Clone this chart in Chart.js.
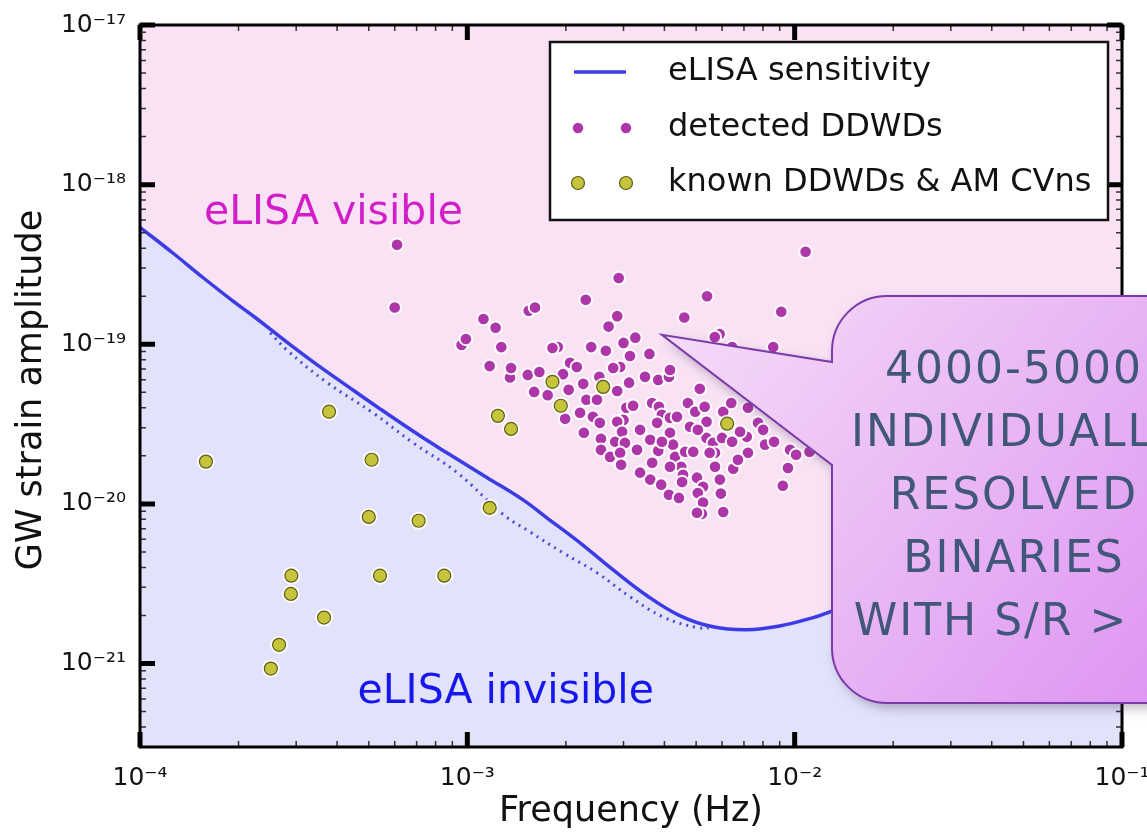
<!DOCTYPE html>
<html>
<head>
<meta charset="utf-8">
<title>eLISA sensitivity and double white dwarfs</title>
<script src="https://cdn.jsdelivr.net/npm/chart.js@4.4.1/dist/chart.umd.min.js"></script>
<style>
  html, body { margin: 0; padding: 0; background: #fff; }
  #wrap { position: relative; width: 1147px; height: 837px; overflow: hidden; }
</style>
</head>
<body>
<div id="wrap"><canvas id="chart" width="1147" height="837"></canvas></div>
<script>
// tick labels
const xTicks = [1e-4, 1e-3, 1e-2, 1e-1];
const yTicks = [1e-21, 1e-20, 1e-19, 1e-18, 1e-17];

// eLISA sensitivity curve (solid)
const sensFreq = [1.0e-4, 1.26e-4, 1.56e-4, 1.92e-4, 2.28e-4, 2.73e-4, 3.38e-4, 4.29e-4, 5.41e-4, 7.17e-4,
  8.66e-4, 1.15e-3, 1.48e-3, 1.75e-3, 2.21e-3, 2.79e-3, 3.54e-3, 4.47e-3, 5.63e-3, 7.14e-3,
  9.0e-3, 1.14e-2, 1.28e-2, 2.0e-2, 4.0e-2, 7.0e-2, 1.0e-1];
const sensStrain = [5.4e-19, 3.73e-19, 2.61e-19, 1.87e-19, 1.44e-19, 1.08e-19, 7.76e-20, 5.49e-20, 3.94e-20, 2.67e-20,
  2.09e-20, 1.46e-20, 1.06e-20, 8.18e-21, 5.7e-21, 3.86e-21, 2.66e-21, 1.99e-21, 1.70e-21, 1.63e-21,
  1.72e-21, 1.94e-21, 2.11e-21, 3.0e-21, 5.5e-21, 9.0e-21, 1.3e-20];

// dotted curve (with foreground)
const dotFreq = [2.5e-4, 2.81e-4, 3.73e-4, 5.15e-4, 6.83e-4, 9.31e-4, 1.29e-3, 1.55e-3, 1.96e-3, 2.49e-3,
  3.14e-3, 3.96e-3, 5.03e-3, 5.6e-3];
const dotStrain = [1.18e-19, 9.2e-20, 5.75e-20, 3.72e-20, 2.41e-20, 1.57e-20, 8.55e-21, 6.7e-21, 4.94e-21, 3.7e-21,
  2.62e-21, 1.96e-21, 1.68e-21, 1.68e-21];

// detected DDWDs
const detFreq = [6.1e-4, 6.0e-4, 1.08e-2, 2.9e-3, 2.3e-3, 5.4e-3, 9.1e-3, 1.54e-3, 1.61e-3, 4.6e-3,
  2.87e-3, 2.7e-3, 1.12e-3, 1.22e-3, 9.6e-4, 9.9e-4, 1.27e-3, 1.17e-3, 1.35e-3, 1.36e-3,
  5.9e-3, 5.7e-3, 8.6e-3, 1.89e-3, 1.82e-3, 2.39e-3, 2.65e-3, 3.0e-3, 3.26e-3, 3.14e-3,
  3.6e-3, 2.06e-3, 2.16e-3, 1.96e-3, 1.53e-3, 1.66e-3, 1.6e-3, 1.76e-3, 2.04e-3, 2.26e-3,
  2.53e-3, 2.87e-3, 2.93e-3, 2.79e-3, 3.12e-3, 3.49e-3, 3.83e-3, 4.13e-3, 4.16e-3, 1.99e-3,
  2.31e-3, 2.49e-3, 2.42e-3, 2.21e-3, 2.27e-3, 2.54e-3, 2.56e-3, 2.56e-3, 2.73e-3, 2.83e-3,
  3.0e-3, 2.87e-3, 3.06e-3, 3.21e-3, 2.97e-3, 3.03e-3, 2.93e-3, 2.95e-3, 3.37e-3, 3.30e-3,
  3.67e-3, 3.85e-3, 3.93e-3, 4.16e-3, 4.37e-3, 3.80e-3, 3.62e-3, 3.83e-3, 3.67e-3, 4.16e-3,
  4.25e-3, 4.31e-3, 4.50e-3, 3.62e-3, 3.37e-3, 3.91e-3, 4.13e-3, 4.43e-3, 4.63e-3, 4.90e-3,
  4.56e-3, 4.79e-3, 4.72e-3, 4.97e-3, 5.13e-3, 5.31e-3, 5.38e-3, 5.38e-3, 5.63e-3, 5.06e-3,
  6.05e-3, 6.40e-3, 6.0e-3, 6.44e-3, 5.71e-3, 5.03e-3, 5.25e-3, 5.06e-3, 5.91e-3, 5.95e-3,
  5.25e-3, 5.21e-3, 5.03e-3, 6.05e-3, 5.71e-3, 6.49e-3, 7.2e-3, 6.71e-3, 7.14e-3, 6.81e-3,
  7.2e-3, 7.73e-3, 8.01e-3, 8.12e-3, 8.65e-3, 9.68e-3, 1.01e-2, 9.54e-3, 9.2e-3, 1.11e-2,
  4.53e-3, 4.16e-3, 3.93e-3, 5.5e-3, 6.44e-3, 1.155e-2];
const detStrain = [4.2e-19, 1.7e-19, 3.8e-19, 2.6e-19, 1.9e-19, 2.0e-19, 1.6e-19, 1.62e-19, 1.7e-19, 1.47e-19,
  1.5e-19, 1.29e-19, 1.44e-19, 1.27e-19, 9.9e-20, 1.08e-19, 9.6e-20, 7.3e-20, 6.2e-20, 7.1e-20,
  1.16e-19, 1.11e-19, 9.6e-20, 9.6e-20, 9.47e-20, 9.6e-20, 9.1e-20, 1.02e-19, 1.10e-19, 8.45e-20,
  8.7e-20, 7.65e-20, 7.2e-20, 6.5e-20, 6.43e-20, 6.7e-20, 5.03e-20, 4.8e-20, 5.18e-20, 5.65e-20,
  6.25e-20, 5.1e-20, 7.2e-20, 7.1e-20, 5.75e-20, 6.25e-20, 5.98e-20, 6.25e-20, 6.9e-20, 3.41e-20,
  4.49e-20, 4.49e-20, 3.51e-20, 3.72e-20, 2.79e-20, 3.22e-20, 2.56e-20, 2.18e-20, 1.97e-20, 2.45e-20,
  3.36e-20, 3.27e-20, 4.0e-20, 4.12e-20, 2.83e-20, 2.41e-20, 2.09e-20, 1.76e-20, 2.91e-20, 2.18e-20,
  4.29e-20, 4.06e-20, 3.62e-20, 3.46e-20, 3.51e-20, 3.22e-20, 2.52e-20, 2.15e-20, 1.81e-20, 2.79e-20,
  2.35e-20, 1.97e-20, 1.71e-20, 1.42e-20, 1.57e-20, 1.32e-20, 1.14e-20, 1.09e-20, 2.12e-20, 2.12e-20,
  1.52e-20, 3.04e-20, 4.29e-20, 3.78e-20, 5.26e-20, 4.06e-20, 3.27e-20, 2.59e-20, 2.41e-20, 2.91e-20,
  3.78e-20, 4.29e-20, 2.59e-20, 2.45e-20, 2.09e-20, 1.46e-20, 1.28e-20, 1.17e-20, 1.42e-20, 1.16e-20,
  1.02e-20, 8.66e-21, 8.8e-21, 8.9e-21, 1.71e-20, 1.66e-20, 2.09e-20, 1.89e-20, 2.63e-20, 2.83e-20,
  4.0e-20, 3.22e-20, 2.91e-20, 2.35e-20, 2.45e-20, 2.18e-20, 2.03e-20, 1.68e-20, 1.30e-20, 2.12e-20,
  1.37e-20, 1.71e-20, 2.45e-20, 2.09e-20, 9.6e-20, 2.35e-20];

// known DDWDs & AM CVns
const knownFreq = [1.59e-4, 3.78e-4, 5.1e-4, 5.0e-4, 7.1e-4, 2.9e-4, 2.89e-4, 3.65e-4, 2.66e-4, 2.51e-4,
  5.41e-4, 8.5e-4, 1.17e-3, 1.24e-3, 1.36e-3, 1.82e-3, 1.93e-3, 2.60e-3, 6.22e-3];
const knownStrain = [1.84e-20, 3.78e-20, 1.89e-20, 8.29e-21, 7.84e-21, 3.55e-21, 2.73e-21, 1.94e-21, 1.31e-21, 9.3e-22,
  3.55e-21, 3.55e-21, 9.45e-21, 3.56e-20, 2.95e-20, 5.82e-20, 4.12e-20, 5.41e-20, 3.18e-20];

const legendLabels = ['eLISA sensitivity', 'detected DDWDs', 'known DDWDs & AM CVns'];
const calloutLines = ['4000-5000', 'INDIVIDUALLY', 'RESOLVED', 'BINARIES', 'WITH S/R > 5'];

const FONT = '"Comic Sans MS", "DejaVu Sans", sans-serif';
const PINK = '#f8e2f4';
const LAVENDER = '#e2e2fb';
const BLUE = '#3c3ce4';
const PURPLE = '#ad37a8';
const OLIVE = '#c6c43a';

const pairs = (xs, ys) => xs.map((x, i) => ({ x: x, y: ys[i] }));

const SUP = { '-': '\u207B', '0': '\u2070', '1': '\u00B9', '2': '\u00B2', '3': '\u00B3',
  '4': '\u2074', '5': '\u2075', '6': '\u2076', '7': '\u2077', '8': '\u2078', '9': '\u2079' };
function powLabel(v) {
  const e = Math.round(Math.log10(v));
  return '10' + String(e).split('').map(c => SUP[c]).join('');
}

function decades(scale) {
  const out = [];
  for (let e = Math.floor(Math.log10(scale.min)); e <= Math.ceil(Math.log10(scale.max)); e++) out.push(e);
  return out;
}

function drawTickMarks(ctx, scale, horizontal, a) {
  for (const e of decades(scale)) {
    for (let m = 1; m <= 9; m++) {
      const v = m * Math.pow(10, e);
      if (v < scale.min * 0.999 || v > scale.max * 1.001) continue;
      const p = scale.getPixelForValue(v);
      const major = m === 1;
      const len = major ? 15 : 6;
      ctx.lineWidth = major ? 5 : 1.5;
      ctx.strokeStyle = major ? '#000' : '#333';
      ctx.beginPath();
      if (horizontal) {
        ctx.moveTo(p, a.bottom); ctx.lineTo(p, a.bottom - len);
        ctx.moveTo(p, a.top); ctx.lineTo(p, a.top + len);
      } else {
        ctx.moveTo(a.left, p); ctx.lineTo(a.left + len, p);
        ctx.moveTo(a.right, p); ctx.lineTo(a.right - len, p);
      }
      ctx.stroke();
    }
  }
}

function dot(ctx, x, y, r, fill, stroke, lw) {
  ctx.beginPath();
  ctx.arc(x, y, r, 0, Math.PI * 2);
  ctx.fillStyle = fill;
  ctx.fill();
  ctx.lineWidth = lw;
  ctx.strokeStyle = stroke;
  ctx.stroke();
}

const decor = {
  id: 'decor',
  beforeDatasetsDraw(chart) {
    const { ctx, chartArea: a } = chart;
    ctx.save();
    ctx.fillStyle = PINK;
    ctx.fillRect(a.left, a.top, a.right - a.left, a.bottom - a.top);
    ctx.restore();
  },
  afterDraw(chart) {
    const { ctx, chartArea: a } = chart;
    const xs = chart.scales.x, ys = chart.scales.y;
    ctx.save();
    ctx.lineCap = 'butt';

    drawTickMarks(ctx, xs, true, a);
    drawTickMarks(ctx, ys, false, a);
    ctx.lineWidth = 3;
    ctx.strokeStyle = '#000';
    ctx.strokeRect(a.left, a.top, a.right - a.left, a.bottom - a.top);

    // axis titles
    ctx.fillStyle = '#111';
    ctx.font = '35px ' + FONT;
    ctx.textAlign = 'center';
    ctx.textBaseline = 'middle';
    ctx.fillText('Frequency (Hz)', (a.left + a.right) / 2, 812);
    ctx.save();
    ctx.translate(32, (a.top + a.bottom) / 2 + 4);
    ctx.rotate(-Math.PI / 2);
    ctx.fillText('GW strain amplitude', 0, 0);
    ctx.restore();

    // region labels
    ctx.font = '41px ' + FONT;
    ctx.fillStyle = '#d21ec9';
    ctx.fillText('eLISA visible', xs.getPixelForValue(3.9e-4), ys.getPixelForValue(6.6e-19));
    ctx.fillStyle = '#1616ee';
    ctx.fillText('eLISA invisible', xs.getPixelForValue(1.31e-3), ys.getPixelForValue(6.6e-22));

    // legend
    const lw = 558, lh = 178;
    const lx = a.right - 572, ly = a.top + 17;
    ctx.fillStyle = '#fff';
    ctx.fillRect(lx, ly, lw, lh);
    ctx.lineWidth = 2.5;
    ctx.strokeStyle = '#111';
    ctx.strokeRect(lx, ly, lw, lh);
    const rows = [ly + 30, ly + 86, ly + 141];
    ctx.strokeStyle = BLUE;
    ctx.lineWidth = 3.5;
    ctx.beginPath();
    ctx.moveTo(lx + 24, rows[0]); ctx.lineTo(lx + 76, rows[0]);
    ctx.stroke();
    dot(ctx, lx + 28, rows[1], 6, PURPLE, '#fff', 1.5);
    dot(ctx, lx + 76, rows[1], 6, PURPLE, '#fff', 1.5);
    dot(ctx, lx + 28, rows[2], 6.5, OLIVE, '#5f5c1a', 1.2);
    dot(ctx, lx + 76, rows[2], 6.5, OLIVE, '#5f5c1a', 1.2);
    ctx.fillStyle = '#111';
    ctx.font = '32px ' + FONT;
    ctx.textAlign = 'left';
    legendLabels.forEach((t, i) => ctx.fillText(t, lx + 118, rows[i]));

    // call-out bubble
    const tipX = xs.getPixelForValue(3.93e-3), tipY = ys.getPixelForValue(1.145e-19);
    const bx = 832, by = 296, bw = 420, bh = 407, r = 55;
    ctx.beginPath();
    ctx.moveTo(bx + r, by);
    ctx.lineTo(bx + bw, by);
    ctx.lineTo(bx + bw, by + bh);
    ctx.lineTo(bx + r, by + bh);
    ctx.arcTo(bx, by + bh, bx, by + bh - r, r);
    ctx.lineTo(bx, 465);
    ctx.lineTo(tipX, tipY);
    ctx.lineTo(bx, 362);
    ctx.lineTo(bx, by + r);
    ctx.arcTo(bx, by, bx + r, by, r);
    ctx.closePath();
    const g = ctx.createLinearGradient(tipX, by, 1147, by + bh);
    g.addColorStop(0, '#f6def8');
    g.addColorStop(1, '#de96f2');
    ctx.save();
    ctx.shadowColor = 'rgba(60,40,80,0.35)';
    ctx.shadowBlur = 12;
    ctx.shadowOffsetX = 4;
    ctx.shadowOffsetY = 5;
    ctx.fillStyle = g;
    ctx.fill();
    ctx.restore();
    ctx.lineWidth = 2;
    ctx.strokeStyle = '#7a3aa8';
    ctx.stroke();

    ctx.fillStyle = '#40577a';
    ctx.font = '44px ' + FONT;
    ctx.textAlign = 'center';
    ctx.letterSpacing = '2px';
    calloutLines.forEach((t, i) => ctx.fillText(t, 1014, 372 + i * 63));
    ctx.restore();
  }
};

new Chart(document.getElementById('chart'), {
  type: 'scatter',
  data: {
    datasets: [
      {
        label: legendLabels[2],
        data: pairs(knownFreq, knownStrain),
        pointRadius: 6.5,
        backgroundColor: OLIVE,
        borderColor: '#5f5c1a',
        borderWidth: 1.2,
        order: 0
      },
      {
        label: 'halo',
        data: pairs(knownFreq, knownStrain),
        pointRadius: 9,
        backgroundColor: 'rgba(255,255,255,0.85)',
        borderWidth: 0,
        order: 1
      },
      {
        label: legendLabels[1],
        data: pairs(detFreq, detStrain),
        pointRadius: 6.3,
        backgroundColor: PURPLE,
        borderColor: 'rgba(255,255,255,0.95)',
        borderWidth: 2,
        order: 2
      },
      {
        label: 'dotted',
        data: pairs(dotFreq, dotStrain),
        showLine: true,
        pointRadius: 0,
        borderColor: '#4a4ad4',
        borderWidth: 3,
        borderDash: [2, 5],
        tension: 0.4,
        fill: false,
        order: 3
      },
      {
        label: legendLabels[0],
        data: pairs(sensFreq, sensStrain),
        showLine: true,
        pointRadius: 0,
        borderColor: BLUE,
        borderWidth: 3.5,
        tension: 0.4,
        fill: 'start',
        backgroundColor: LAVENDER,
        order: 4
      }
    ]
  },
  options: {
    responsive: false,
    animation: false,
    devicePixelRatio: 1,
    events: [],
    layout: { padding: { top: 25, right: 25, left: 0, bottom: 0 } },
    plugins: {
      legend: { display: false },
      tooltip: { enabled: false }
    },
    scales: {
      x: {
        type: 'logarithmic',
        min: 1e-4,
        max: 1e-1,
        afterBuildTicks: s => { s.ticks = xTicks.map(v => ({ value: v })); },
        afterFit: s => { s.height = 90; s.paddingLeft = 0; s.paddingRight = 0; },
        ticks: {
          callback: v => powLabel(v),
          font: { family: FONT, size: 25 },
          color: '#111',
          padding: 8,
          maxRotation: 0,
          autoSkip: false
        },
        grid: { display: false },
        border: { display: false }
      },
      y: {
        type: 'logarithmic',
        min: 3e-22,
        max: 1e-17,
        afterBuildTicks: s => { s.ticks = yTicks.map(v => ({ value: v })); },
        afterFit: s => { s.width = 140; s.paddingTop = 0; s.paddingBottom = 0; },
        ticks: {
          callback: v => powLabel(v),
          font: { family: FONT, size: 25 },
          color: '#111',
          padding: 6,
          autoSkip: false
        },
        grid: { display: false },
        border: { display: false }
      }
    }
  },
  plugins: [decor]
});
</script>
</body>
</html>
